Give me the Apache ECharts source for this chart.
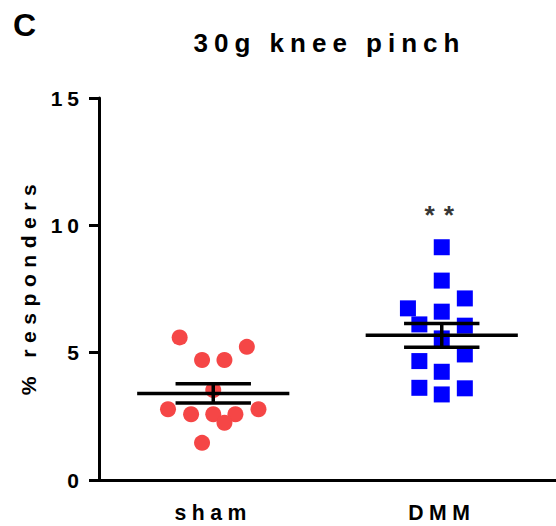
<!DOCTYPE html>
<html><head><meta charset="utf-8">
<script src="https://cdn.jsdelivr.net/npm/echarts@6.0.0/dist/echarts.min.js"></script>
<style>
html,body{margin:0;padding:0;background:#fff;}
#c{width:556px;height:526px;}
#c text{font-family:"Liberation Sans", Arial, sans-serif !important; font-weight:bold !important;}
#c text[style*="21px"]{letter-spacing:5px; font-size:21px !important;}
#c text[style*="21.2px"]{letter-spacing:5.5px; font-size:21.2px !important;}
#c text[style*="21.1px"]{letter-spacing:6.5px; font-size:21.1px !important;}
#c text[style*="26px"]{letter-spacing:6px; font-size:26px !important;}
#c text[style*="26.5px"]{letter-spacing:9px; font-size:26.5px !important;}
#c text[style*="32px"]{font-size:32px !important;}
</style></head><body><div id="c"></div>
<script>
// ---- data ----
const categories = ['sham', 'DMM'];
const yTickValues = [0, 5, 10, 15];
const shamValues = [5.60, 5.23, 4.71, 4.71, 3.53, 2.78, 2.78, 2.58, 2.58, 2.58, 2.25, 1.46];
const shamJitter = [-0.147, 0.147, -0.049, 0.049, 0, -0.198, 0.198, -0.097, 0, 0.097, 0.049, -0.049];
const dmmValues = [9.14, 7.83, 7.13, 6.74, 6.61, 6.11, 6.06, 5.56, 4.93, 4.67, 4.25, 3.62, 3.60, 3.36];
const dmmJitter = [0, 0, 0.101, -0.148, 0, -0.098, 0.101, 0, 0.101, -0.098, 0, -0.098, 0.101, 0];
const groupMeans = [3.40, 5.68];
const groupSEM = [0.38, 0.47];
const sigLabels = ['', '**'];
const sigY = [null, 10.42];
const titleText = '30g knee pinch';
const yAxisTitle = '% responders';
const panelLetter = 'C';

// ---- chart ----
const FONT = 'Liberation Sans, Arial, sans-serif';
const chart = echarts.init(document.getElementById('c'), null, {renderer: 'svg'});

const shamData = shamValues.map((v, i) => [0 + shamJitter[i], v]);
const dmmData = dmmValues.map((v, i) => [1 + dmmJitter[i], v]);
const summaryData = groupMeans.map((m, i) => [i, m, groupSEM[i]]);
const sigData = [];
sigLabels.forEach((t, i) => { if (t) sigData.push({value: [i, sigY[i]], label: t}); });

const MEAN_HALF = 0.333, CAP_HALF = 0.165;

chart.setOption({
  animation: false,
  backgroundColor: '#fff',
  grid: {left: 99, right: -4, top: 98, bottom: 46, containLabel: false},
  xAxis: [{
    type: 'category',
    data: categories,
    boundaryGap: true,
    axisLine: {onZero: false, lineStyle: {color: '#000', width: 3}},
    axisTick: {alignWithLabel: true, length: 9, lineStyle: {color: '#000', width: 3}},
    axisLabel: {color: '#000', fontSize: 21.2, fontWeight: 'bold', fontFamily: FONT, margin: 22},
    splitLine: {show: false}
  }, {
    type: 'value', min: -0.5, max: 1.5, show: false
  }],
  yAxis: {
    type: 'value', min: 0, max: 15, interval: 5,
    axisLine: {show: true, onZero: false, lineStyle: {color: '#000', width: 3}},
    axisTick: {show: true, length: 10, lineStyle: {color: '#000', width: 3}},
    axisLabel: {color: '#000', fontSize: 21, fontWeight: 'bold', fontFamily: FONT, margin: 15,
      formatter: v => yTickValues.includes(v) ? String(v) : ''},
    splitLine: {show: false}
  },
  series: [{
    type: 'scatter', xAxisIndex: 1, data: shamData,
    symbol: 'circle', symbolSize: 16,
    itemStyle: {color: '#F54646', opacity: 1}, z: 2
  }, {
    type: 'scatter', xAxisIndex: 1, data: dmmData,
    symbol: 'rect', symbolSize: 16,
    itemStyle: {color: '#0000FF', opacity: 1}, z: 2
  }, {
    type: 'custom', xAxisIndex: 1, data: summaryData, z: 5,
    renderItem: function (params, api) {
      const x = api.value(0), m = api.value(1), s = api.value(2);
      const pL = api.coord([x - MEAN_HALF, m]), pR = api.coord([x + MEAN_HALF, m]);
      const top = api.coord([x, m + s]), bot = api.coord([x, m - s]);
      const cL = api.coord([x - CAP_HALF, m]), cR = api.coord([x + CAP_HALF, m]);
      const st = {stroke: '#000', lineWidth: 3.5};
      return {type: 'group', children: [
        {type: 'line', shape: {x1: pL[0], y1: pL[1], x2: pR[0], y2: pR[1]}, style: st},
        {type: 'line', shape: {x1: cL[0], y1: top[1], x2: cR[0], y2: top[1]}, style: st},
        {type: 'line', shape: {x1: cL[0], y1: bot[1], x2: cR[0], y2: bot[1]}, style: st},
        {type: 'line', shape: {x1: top[0], y1: top[1], x2: bot[0], y2: bot[1]}, style: st}
      ]};
    }
  }, {
    type: 'scatter', xAxisIndex: 1, symbolSize: 0, z: 6,
    data: sigData.map(d => ({value: d.value, label: {formatter: d.label}})),
    label: {show: true, position: 'inside', offset: [2, 0], color: '#000',
      fontSize: 26.5, fontWeight: 'bold', fontFamily: FONT}
  }],
  graphic: [{
    type: 'text', x: 13, y: 24.5, z: 10,
    style: {text: panelLetter, fill: '#000', font: 'bold 32px ' + FONT, align: 'left', verticalAlign: 'middle'}
  }, {
    type: 'text', x: 329.5, y: 42.5, z: 10,
    style: {text: titleText, fill: '#000', font: 'bold 26px ' + FONT, align: 'center', verticalAlign: 'middle'}
  }, {
    type: 'text', x: 28, y: 286.5, rotation: Math.PI / 2, z: 10,
    style: {text: yAxisTitle, fill: '#000', font: 'bold 21.1px ' + FONT, align: 'center', verticalAlign: 'middle'}
  }]
});
</script></body></html>
